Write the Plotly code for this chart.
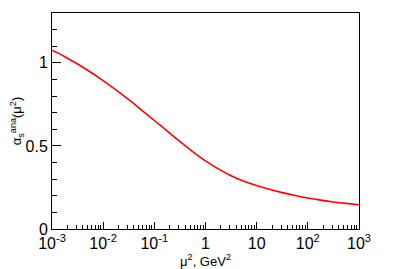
import plotly.graph_objects as go

# mu^2 values (GeV^2), quarter-decade steps from 1e-3 to 1e3
mu2 = [0.001, 0.001778, 0.003162, 0.005623, 0.01, 0.01778, 0.03162, 0.05623,
       0.1, 0.1778, 0.3162, 0.5623, 1.0, 1.778, 3.162, 5.623, 10.0, 17.78,
       31.62, 56.23, 100.0, 177.8, 316.2, 562.3, 1000.0]
# analytic coupling
alpha_ana = [1.076, 1.037, 0.993, 0.945, 0.893, 0.837, 0.778, 0.716,
             0.653, 0.590, 0.527, 0.466, 0.410, 0.362, 0.321, 0.288,
             0.262, 0.239, 0.219, 0.202, 0.187, 0.174, 0.163, 0.154, 0.146]

x_tickvals = [0.001, 0.01, 0.1, 1, 10, 100, 1000]
x_ticktext = ["10<sup>-3</sup>", "10<sup>-2</sup>", "10<sup>-1</sup>", "1", "10",
              "10<sup>2</sup>", "10<sup>3</sup>"]
y_tickvals = [0, 0.5, 1]
y_ticktext = ["0", "0.5", "1"]

fig = go.Figure()
fig.add_trace(go.Scatter(x=mu2, y=alpha_ana, mode="lines",
                         line=dict(color="#ff0000", width=1.6, shape="spline", smoothing=1.0),
                         showlegend=False))

# page body has an 8px default margin, so the figure is 8px smaller and shifted
font = dict(family="Liberation Sans, Arial, sans-serif", size=16, color="black")
fig.update_layout(
    width=391, height=261,
    margin=dict(l=44, r=40, t=5, b=40, pad=0),
    paper_bgcolor="white", plot_bgcolor="white",
    font=font,
    xaxis=dict(type="log", range=[-3, 3], tickvals=x_tickvals, ticktext=x_ticktext,
               ticks="inside", ticklen=7, tickcolor="black", automargin=False,
               showline=True, linecolor="black", linewidth=1, mirror=True,
               showgrid=False, zeroline=False,
               minor=dict(ticks="inside", ticklen=4, tickcolor="black", dtick="D1", showgrid=False),
               title=dict(text="μ<sup>2</sup>, GeV<sup>2</sup>", font=dict(size=13), standoff=0)),
    yaxis=dict(range=[0, 1.3], tickvals=y_tickvals, ticktext=y_ticktext,
               ticks="inside", ticklen=9, tickcolor="black", automargin=False,
               showline=True, linecolor="black", linewidth=1, mirror=True,
               showgrid=False, zeroline=False,
               minor=dict(ticks="inside", ticklen=5, tickcolor="black", dtick=0.1, showgrid=False),
               title=dict(text="α<sub>s</sub><sup>ana</sup>(μ<sup>2</sup>)", font=dict(size=13), standoff=2)),
)
fig.write_html("out.html")
